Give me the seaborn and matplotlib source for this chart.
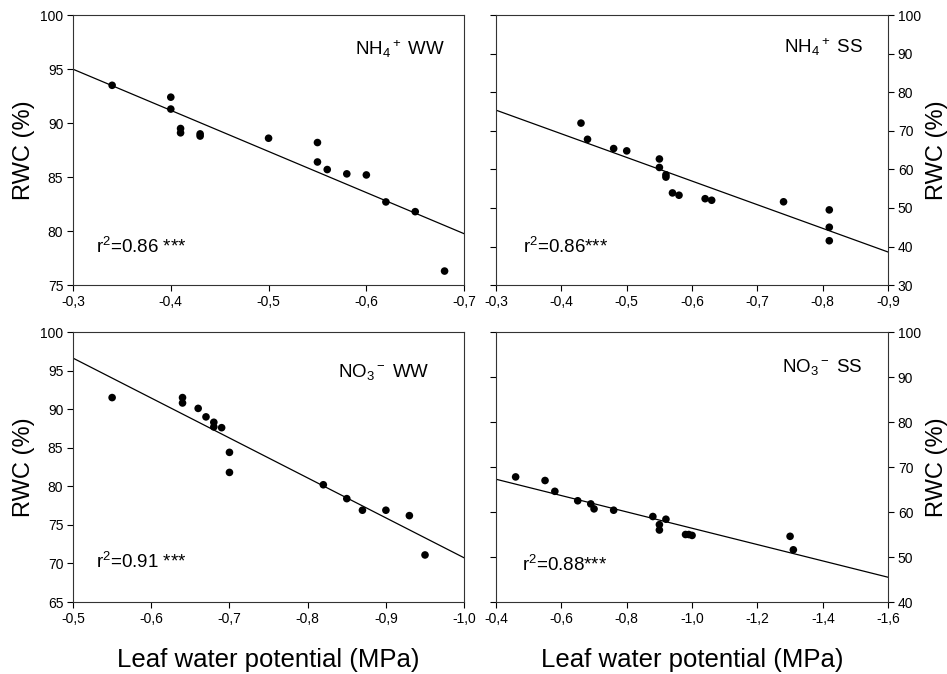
import numpy as np
import pandas as pd
import seaborn as sns
import matplotlib
matplotlib.use("Agg")
import matplotlib.pyplot as plt
from matplotlib.ticker import FuncFormatter, MultipleLocator

# leaf water potential (MPa) and RWC (%) for each treatment
nh4_ww_lwp = [-0.34, -0.40, -0.40, -0.41, -0.41, -0.43, -0.43, -0.50, -0.55, -0.55,
              -0.56, -0.58, -0.60, -0.62, -0.65, -0.68]
nh4_ww_rwc = [93.5, 92.4, 91.3, 89.5, 89.1, 89.0, 88.8, 88.6, 88.2, 86.4,
              85.7, 85.3, 85.2, 82.7, 81.8, 76.3]

nh4_ss_lwp = [-0.43, -0.44, -0.48, -0.50, -0.55, -0.55, -0.56, -0.56, -0.57, -0.58,
              -0.62, -0.63, -0.74, -0.81, -0.81, -0.81]
nh4_ss_rwc = [72.0, 67.8, 65.4, 64.8, 62.7, 60.5, 58.6, 58.0, 53.9, 53.3,
              52.4, 52.0, 51.6, 49.5, 45.0, 41.5]

no3_ww_lwp = [-0.55, -0.64, -0.64, -0.66, -0.67, -0.68, -0.68, -0.69, -0.70, -0.70,
              -0.82, -0.85, -0.87, -0.90, -0.93, -0.95]
no3_ww_rwc = [91.5, 91.5, 90.8, 90.1, 89.0, 88.3, 87.7, 87.6, 84.4, 81.8,
              80.2, 78.4, 76.9, 76.9, 76.2, 71.1]

no3_ss_lwp = [-0.46, -0.55, -0.58, -0.65, -0.69, -0.70, -0.76, -0.88, -0.90, -0.90,
              -0.92, -0.98, -0.99, -1.00, -1.30, -1.31]
no3_ss_rwc = [67.8, 67.0, 64.6, 62.5, 61.8, 60.7, 60.4, 59.0, 57.2, 56.0,
              58.4, 55.0, 55.0, 54.8, 54.6, 51.6]

labels = [r"NH$_4$$^+$ WW", r"NH$_4$$^+$ SS", r"NO$_3$$^-$ WW", r"NO$_3$$^-$ SS"]
r2_text = [r"r$^2$=0.86 ***", r"r$^2$=0.86***", r"r$^2$=0.91 ***", r"r$^2$=0.88***"]

sns.set_theme(style="ticks")
plt.rcParams["font.family"] = ["Liberation Sans", "DejaVu Sans"]
plt.rcParams["mathtext.fontset"] = "custom"
plt.rcParams["mathtext.rm"] = "Liberation Sans"
plt.rcParams["mathtext.it"] = "Liberation Sans"
plt.rcParams["mathtext.bf"] = "Liberation Sans"
plt.rcParams["text.color"] = "black"
plt.rcParams["axes.labelcolor"] = "black"

fig = plt.figure(figsize=(9.47, 6.74), dpi=100)

panels = [
    dict(x=nh4_ww_lwp, y=nh4_ww_rwc, rect=[0.0771, 0.577, 0.413, 0.4006],
         xlim=(-0.3, -0.7), xstep=0.1, ylim=(75, 100), ystep=5, right=False,
         lab=(0.951, 0.852), r2=(0.059, 0.118)),
    dict(x=nh4_ss_lwp, y=nh4_ss_rwc, rect=[0.5238, 0.577, 0.414, 0.4006],
         xlim=(-0.3, -0.9), xstep=0.1, ylim=(30, 100), ystep=10, right=True,
         lab=(0.936, 0.859), r2=(0.069, 0.118)),
    dict(x=no3_ww_lwp, y=no3_ww_rwc, rect=[0.0771, 0.1068, 0.413, 0.4006],
         xlim=(-0.5, -1.0), xstep=0.1, ylim=(65, 100), ystep=5, right=False,
         lab=(0.91, 0.833), r2=(0.059, 0.126)),
    dict(x=no3_ss_lwp, y=no3_ss_rwc, rect=[0.5238, 0.1068, 0.414, 0.4006],
         xlim=(-0.4, -1.6), xstep=0.2, ylim=(40, 100), ystep=10, right=True,
         lab=(0.934, 0.852), r2=(0.066, 0.114)),
]

comma = FuncFormatter(lambda v, pos: f"{v:.1f}".replace(".", ",").replace("\u2212", "-"))

for i, p in enumerate(panels):
    ax = fig.add_axes(p["rect"])
    ax.set_xlim(*p["xlim"])
    ax.set_ylim(*p["ylim"])
    df = pd.DataFrame({"lwp": p["x"], "rwc": p["y"]})
    sns.regplot(data=df, x="lwp", y="rwc", ax=ax, ci=None, truncate=False,
                color="black",
                scatter_kws=dict(s=30, edgecolor="none", alpha=1, zorder=5),
                line_kws=dict(lw=0.9))
    ax.set_xlim(*p["xlim"])
    ax.set_ylim(*p["ylim"])
    ax.xaxis.set_major_locator(MultipleLocator(p["xstep"]))
    ax.yaxis.set_major_locator(MultipleLocator(p["ystep"]))
    ax.xaxis.set_major_formatter(comma)
    ax.tick_params(axis="both", direction="out", length=4, width=0.8,
                   labelsize=10, colors="black", pad=3)
    for s in ax.spines.values():
        s.set_visible(True)
        s.set_linewidth(0.8)
        s.set_color("#333333")
    ax.set_xlabel("")
    if p["right"]:
        ax.yaxis.tick_right()
        ax.yaxis.set_label_position("right")
        ax.tick_params(axis="y", left=True, labelleft=False, right=True, labelright=True)
        ax.set_ylabel("RWC (%)", fontsize=17, labelpad=4)
    else:
        ax.tick_params(axis="y", left=True, right=False)
        ax.set_ylabel("RWC (%)", fontsize=17, labelpad=4)
    if i >= 2:
        ax.set_xlabel("Leaf water potential (MPa)", fontsize=18.5, labelpad=16)
    ax.text(p["lab"][0], p["lab"][1], labels[i], transform=ax.transAxes,
            ha="right", va="baseline", fontsize=13.5)
    ax.text(p["r2"][0], p["r2"][1], r2_text[i], transform=ax.transAxes,
            ha="left", va="baseline", fontsize=13.5)

fig.savefig("out.png", dpi=100)
